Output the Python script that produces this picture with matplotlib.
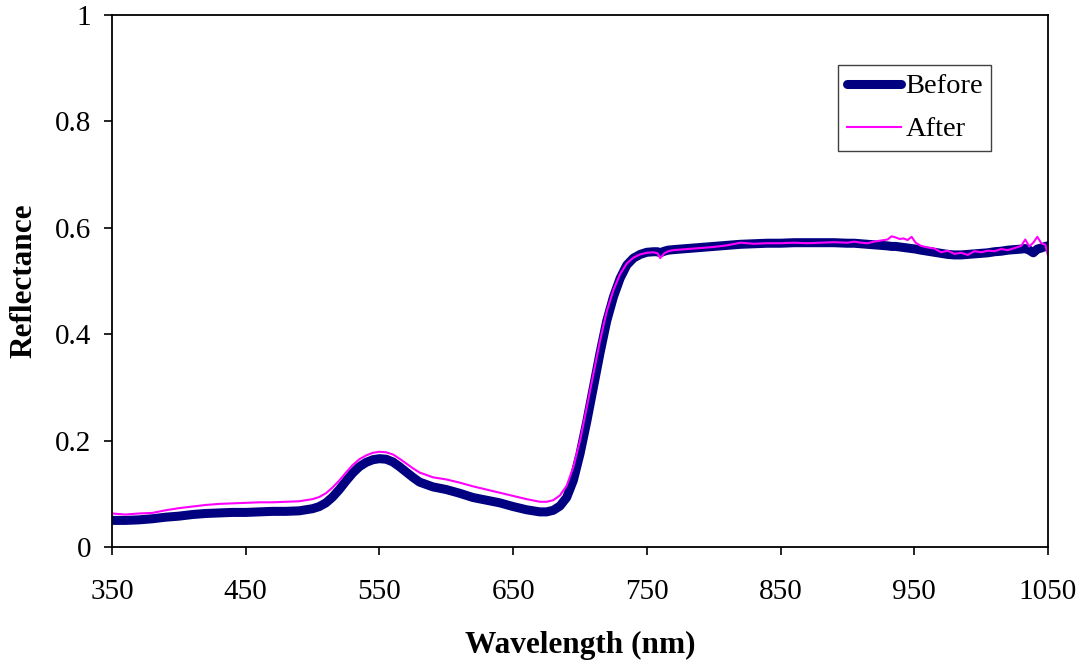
import matplotlib
matplotlib.use("Agg")
import matplotlib.pyplot as plt

plt.rcParams['font.family'] = ['Liberation Serif', 'DejaVu Serif']

wavelength = [350, 360, 370, 380, 390, 400, 410, 420, 430, 440, 450, 460, 470, 480, 490,
              500, 505, 510, 515, 520, 525, 530, 535, 540, 545, 550, 555, 560, 565, 570,
              575, 580, 590, 600, 610, 620, 630, 640, 650, 660, 670, 675, 680, 685, 690,
              695, 700, 705, 710, 715, 720, 725, 730, 735, 740, 745, 750, 755, 758, 760,
              763, 766, 770, 780, 790, 800, 810, 820, 830, 840, 850, 860, 870, 880, 890,
              900, 905, 910, 915, 920, 925, 930, 933, 936, 939, 942, 945, 948, 951, 955,
              960, 965, 970, 975, 980, 985, 990, 995, 1000, 1005, 1010, 1015, 1020, 1025, 1030,
              1033, 1036, 1039, 1042, 1045, 1048, 1050]

before = [0.050, 0.050, 0.051, 0.053, 0.056, 0.058, 0.061, 0.063, 0.064, 0.065, 0.065, 0.066, 0.067, 0.067, 0.068,
          0.072, 0.076, 0.083, 0.094, 0.108, 0.124, 0.139, 0.151, 0.159, 0.164, 0.166, 0.165, 0.160, 0.151, 0.141,
          0.131, 0.122, 0.113, 0.108, 0.101, 0.093, 0.088, 0.083, 0.076, 0.070, 0.066, 0.066, 0.069, 0.077, 0.093,
          0.125, 0.175, 0.235, 0.300, 0.365, 0.425, 0.470, 0.505, 0.530, 0.543, 0.550, 0.554, 0.555, 0.555, 0.553,
          0.556, 0.558, 0.559, 0.561, 0.563, 0.565, 0.567, 0.569, 0.570, 0.571, 0.571, 0.572, 0.572, 0.572, 0.572,
          0.571, 0.571, 0.570, 0.569, 0.568, 0.567, 0.566, 0.565, 0.565, 0.564, 0.563, 0.562, 0.561, 0.560, 0.558,
          0.556, 0.554, 0.552, 0.550, 0.549, 0.549, 0.550, 0.551, 0.552, 0.553, 0.555, 0.556, 0.558, 0.559, 0.560,
          0.561, 0.558, 0.553, 0.560, 0.562, 0.565, 0.566]

after = [0.063, 0.061, 0.063, 0.064, 0.069, 0.073, 0.076, 0.079, 0.081, 0.082, 0.083, 0.084, 0.084, 0.085, 0.086,
         0.090, 0.094, 0.101, 0.112, 0.125, 0.140, 0.154, 0.165, 0.172, 0.177, 0.179, 0.178, 0.174, 0.166, 0.157,
         0.148, 0.140, 0.131, 0.127, 0.121, 0.114, 0.108, 0.102, 0.096, 0.090, 0.085, 0.085, 0.088, 0.097, 0.115,
         0.150, 0.200, 0.262, 0.325, 0.388, 0.443, 0.483, 0.513, 0.533, 0.544, 0.550, 0.553, 0.554, 0.552, 0.543,
         0.552, 0.556, 0.558, 0.560, 0.562, 0.564, 0.567, 0.572, 0.570, 0.571, 0.571, 0.572, 0.571, 0.572, 0.573,
         0.572, 0.574, 0.572, 0.571, 0.574, 0.576, 0.578, 0.584, 0.582, 0.579, 0.580, 0.577, 0.583, 0.572, 0.566,
         0.563, 0.561, 0.554, 0.557, 0.551, 0.553, 0.549, 0.556, 0.554, 0.557, 0.556, 0.560, 0.558, 0.562, 0.566,
         0.578, 0.565, 0.572, 0.583, 0.571, 0.568, 0.548]

xticks = [350, 450, 550, 650, 750, 850, 950, 1050]
yticks = [0, 0.2, 0.4, 0.6, 0.8, 1]
ytickslabel = ['0', '0.2', '0.4', '0.6', '0.8', '1']

fig = plt.figure(figsize=(10.84, 6.65), dpi=100)
ax = fig.add_axes([112 / 1084, 118 / 665, 936 / 1084, 532 / 665])

line1, = ax.plot(wavelength, before, color='#000080', linewidth=6.5, solid_capstyle='round')
line2, = ax.plot(wavelength, after, color='#FF00FF', linewidth=1.5)

ax.set_xlim(350, 1050)
ax.set_ylim(0, 1)
ax.set_xticks(xticks)
ax.set_yticks(yticks)
ax.set_yticklabels(ytickslabel)
ax.tick_params(axis='x', direction='out', length=6, width=1.2, pad=17, labelsize=21)
ax.tick_params(axis='y', direction='out', length=6, width=1.2, pad=9, labelsize=21)
for s in ax.spines.values():
    s.set_linewidth(1.3)

ax.set_xlabel('Wavelength (nm)', fontsize=22.5, fontweight='bold', labelpad=19)
ax.set_ylabel('Reflectance', fontsize=22.5, fontweight='bold', labelpad=12)

leg = ax.legend((line1, line2), ('Before', 'After'), loc='upper left',
                bbox_to_anchor=(0.776, 0.906), fontsize=20.5, fancybox=False,
                framealpha=1, edgecolor='#404040', handlelength=1.9,
                handletextpad=0.15, borderpad=0.3, labelspacing=0.6, borderaxespad=0)
leg.get_frame().set_linewidth(1.0)

fig.savefig('out.png', dpi=100)
plt.close()
